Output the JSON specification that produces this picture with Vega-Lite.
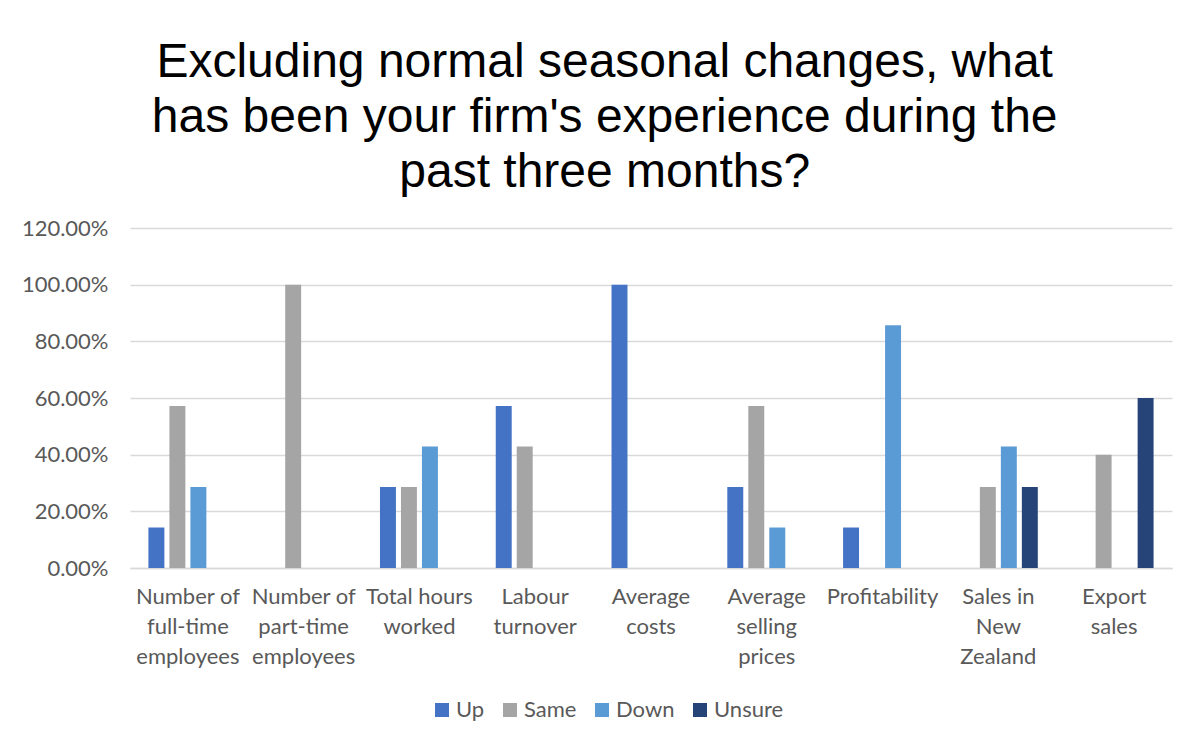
{
  "$schema": "https://vega.github.io/schema/vega-lite/v6.json",
  "autosize": "none",
  "width": 1042,
  "height": 340,
  "padding": {"left": 130, "top": 228, "right": 23, "bottom": 172},
  "background": "white",
  "title": {
    "text": ["Excluding normal seasonal changes, what", "has been your firm's experience during the", "past three months?"],
    "font": "Liberation Sans",
    "fontSize": 48,
    "fontWeight": "normal",
    "lineHeight": 55,
    "color": "#000000",
    "anchor": "middle",
    "frame": "bounds",
    "offset": 20,
    "dx": 8
  },
  "data": {
    "values": [
      {"category": "Number of full-time employees", "series": "Up", "value": 0.1429},
      {"category": "Number of full-time employees", "series": "Same", "value": 0.5714},
      {"category": "Number of full-time employees", "series": "Down", "value": 0.2857},
      {"category": "Number of part-time employees", "series": "Same", "value": 1.0},
      {"category": "Total hours worked", "series": "Up", "value": 0.2857},
      {"category": "Total hours worked", "series": "Same", "value": 0.2857},
      {"category": "Total hours worked", "series": "Down", "value": 0.4286},
      {"category": "Labour turnover", "series": "Up", "value": 0.5714},
      {"category": "Labour turnover", "series": "Same", "value": 0.4286},
      {"category": "Average costs", "series": "Up", "value": 1.0},
      {"category": "Average selling prices", "series": "Up", "value": 0.2857},
      {"category": "Average selling prices", "series": "Same", "value": 0.5714},
      {"category": "Average selling prices", "series": "Down", "value": 0.1429},
      {"category": "Profitability", "series": "Up", "value": 0.1429},
      {"category": "Profitability", "series": "Down", "value": 0.8571},
      {"category": "Sales in New Zealand", "series": "Same", "value": 0.2857},
      {"category": "Sales in New Zealand", "series": "Down", "value": 0.4286},
      {"category": "Sales in New Zealand", "series": "Unsure", "value": 0.2857},
      {"category": "Export sales", "series": "Same", "value": 0.4},
      {"category": "Export sales", "series": "Unsure", "value": 0.6}
    ]
  },
  "mark": {"type": "bar"},
  "encoding": {
    "x": {
      "field": "category",
      "type": "nominal",
      "scale": {
        "domain": ["Number of full-time employees", "Number of part-time employees", "Total hours worked", "Labour turnover", "Average costs", "Average selling prices", "Profitability", "Sales in New Zealand", "Export sales"],
        "paddingInner": 0,
        "paddingOuter": 0
      },
      "axis": {
        "title": null,
        "labelAngle": 0,
        "labelAlign": "center",
        "labelBaseline": "top",
        "labelFont": "Lato",
        "labelFontSize": 22,
        "labelColor": "#595959",
        "labelLineHeight": 30,
        "labelPadding": 18,
        "ticks": false,
        "domainColor": "#D9D9D9",
        "domainWidth": 1.5,
        "grid": false,
        "labelExpr": "{'Number of full-time employees': ['Number of', 'full-time', 'employees'], 'Number of part-time employees': ['Number of', 'part-time', 'employees'], 'Total hours worked': ['Total hours', 'worked'], 'Labour turnover': ['Labour', 'turnover'], 'Average costs': ['Average', 'costs'], 'Average selling prices': ['Average', 'selling', 'prices'], 'Profitability': ['Profitability'], 'Sales in New Zealand': ['Sales in', 'New', 'Zealand'], 'Export sales': ['Export', 'sales']}[datum.value]"
      }
    },
    "xOffset": {
      "field": "series",
      "type": "nominal",
      "scale": {"domain": ["Up", "Same", "Down", "Unsure"], "paddingInner": 0.24, "paddingOuter": 0.877}
    },
    "y": {
      "field": "value",
      "type": "quantitative",
      "scale": {"domain": [0, 1.2]},
      "axis": {
        "title": null,
        "format": ".2%",
        "values": [0, 0.2, 0.4, 0.6, 0.8, 1.0, 1.2],
        "labelFont": "Lato",
        "labelFontSize": 22,
        "labelColor": "#595959",
        "labelPadding": 22,
        "ticks": false,
        "domain": false,
        "gridColor": "#D9D9D9",
        "gridWidth": 1.5
      }
    },
    "color": {
      "field": "series",
      "type": "nominal",
      "scale": {"domain": ["Up", "Same", "Down", "Unsure"], "range": ["#4472C4", "#A5A5A5", "#5B9BD5", "#264478"]},
      "legend": {
        "title": null,
        "orient": "none",
        "direction": "horizontal",
        "legendX": 301,
        "legendY": 471,
        "symbolType": "square",
        "symbolSize": 196,
        "symbolStrokeWidth": 0,
        "symbolOpacity": 1,
        "labelFont": "Lato",
        "labelFontSize": 22,
        "labelColor": "#595959",
        "labelOffset": 3,
        "columnPadding": 14
      }
    }
  },
  "config": {
    "view": {"stroke": null}
  }
}
